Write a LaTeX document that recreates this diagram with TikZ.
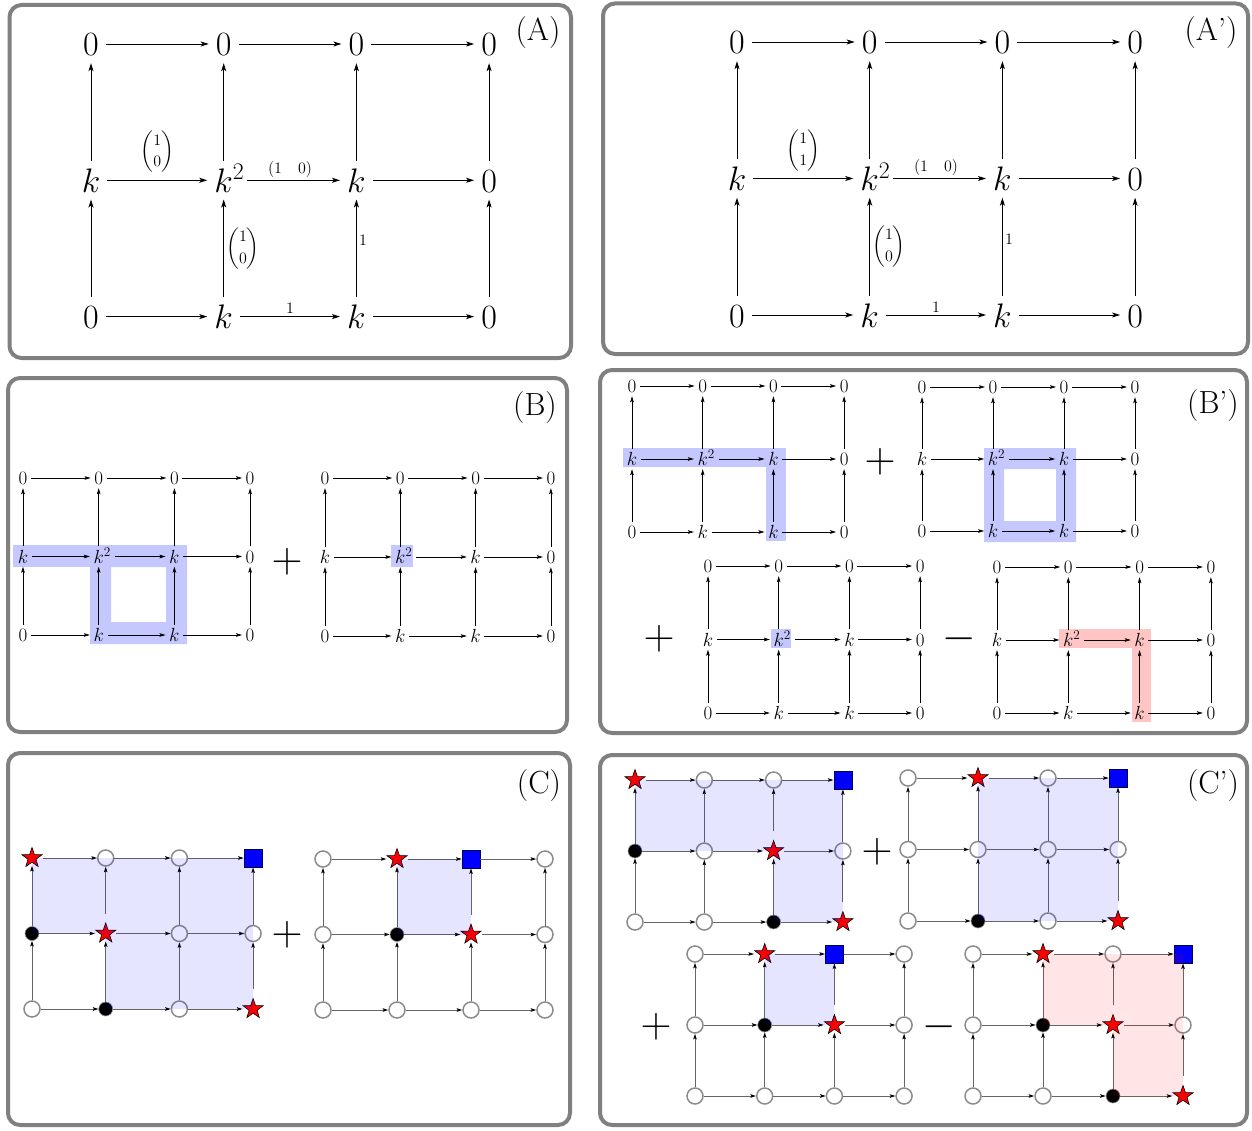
\RequirePackage{fix-cm}
\documentclass[tikz,border=0pt]{standalone}
\usepackage{amsmath}
\usepackage{mathtools}
\usetikzlibrary{arrows.meta,shapes.geometric}
\definecolor{hlb}{RGB}{197,199,255}
\definecolor{hlr}{RGB}{255,197,197}
\tikzset{
 frame/.style={draw=black!50, line width=4pt, rounded corners=12pt},
 plab/.style={font=\fontsize{32}{38}\selectfont, inner sep=0pt},
 Anode/.style={font=\fontsize{34}{40}\selectfont, inner sep=7pt, text height=24pt, text depth=0pt},
 Aarr/.style={-{Stealth[length=8pt,width=5pt,inset=2pt]}, line width=0.9pt},
 Ak2/.style={shorten <=7pt},
 alab/.style={font=\fontsize{16}{19}\selectfont, inner sep=1.5pt},
 bnode/.style={font=\fontsize{19}{22}\selectfont, inner sep=3.5pt, text height=13pt, text depth=0pt},
 barr/.style={-{Stealth[length=6pt,width=3.6pt,inset=1.2pt]}, line width=0.7pt},
 bk2/.style={shorten <=7pt},
 op/.style={font=\fontsize{43}{50}\selectfont, inner sep=0pt},
 cw/.style={circle, draw=black!45, line width=1.5pt, fill=white, minimum size=16pt, inner sep=0pt},
 cb/.style={circle, draw=black!40, line width=0.6pt, fill=black, minimum size=14pt, inner sep=0pt},
 cs/.style={star, star points=5, star point ratio=2.5, draw=black, line width=0.6pt, fill=red, minimum size=21pt, inner sep=0pt, outer sep=3pt},
 cq/.style={rectangle, draw=black!70!blue, line width=0.8pt, fill=blue, minimum size=18pt, inner sep=0pt},
 carr/.style={draw=black!60, line width=0.9pt, -{Stealth[length=5.5pt,width=3.5pt,inset=1pt,color=black]}},
}
\newcommand{\kgrid}[6]{%
  \foreach \ty [count=\i from 0] in {0,0,0,0,k,k\mathrlap{^2},k,0,0,k,k,0}{%
    \pgfmathtruncatemacro\rr{\i/4}%
    \pgfmathtruncatemacro\cc{\i-4*\rr}%
    \node[#6node] (#1-\rr-\cc) at ({#2+\cc*#4},{#3+\rr*#5}) {$\ty$};
  }%
  \foreach \rr in {0,1,2}{\foreach \cc/\dd in {0/1,1/2,2/3}{%
    \ifnum\rr\cc=11 \def\ex{#6k2}\else\def\ex{}\fi
    \draw[#6arr,\ex] (#1-\rr-\cc) -- (#1-\rr-\dd);}}%
  \foreach \rr/\qq in {1/0,2/1}{\foreach \cc in {0,1,2,3}{%
    \draw[#6arr] (#1-\rr-\cc) -- (#1-\qq-\cc);}}%
}
\newcommand{\cgrid}[6]{%
  \foreach \ty [count=\i from 0] in {#6}{%
    \pgfmathtruncatemacro\rr{\i/4}%
    \pgfmathtruncatemacro\cc{\i-4*\rr}%
    \node[\ty] (#1-\rr-\cc) at ({#2+\cc*#4},{#3+\rr*#5}) {};
  }%
  \foreach \rr in {0,1,2}{\foreach \cc/\dd in {0/1,1/2,2/3}{%
    \draw[carr] (#1-\rr-\cc) -- (#1-\rr-\dd);}}%
  \foreach \rr/\qq in {1/0,2/1}{\foreach \cc in {0,1,2,3}{%
    \draw[carr] (#1-\rr-\cc) -- (#1-\qq-\cc);}}%
}
\begin{document}
\begin{tikzpicture}[x=1pt,y=-1pt]
\useasboundingbox (0,0) rectangle (1252,1131);
% frames
\draw[frame] (9.5,5) rectangle (571,358);
\draw[frame] (603,3.5) rectangle (1248,354);
\draw[frame] (8,378) rectangle (567,732);
\draw[frame] (600,370) rectangle (1247,733);
\draw[frame] (8,753) rectangle (570,1125);
\draw[frame] (600,755) rectangle (1247,1125);
% panel labels
\node[plab] (lA) at (538,33) {(A)};
\node[plab] (lAp) at (1211,33) {(A')};
\node[plab] (lB) at (535,408) {(B)};
\node[plab] (lBp) at (1213,406) {(B')};
\node[plab] (lC) at (539,786) {(C)};
\node[plab] (lCp) at (1213,786) {(C')};
% highlights
\fill[hlb] (13,545) rectangle (187,567);
\fill[hlb,even odd rule] (90,545) rectangle (187,644) (111,567) rectangle (166,622);
\fill[hlb] (391,545) rectangle (413,567);
\fill[hlb] (623,448) rectangle (786,467);
\fill[hlb] (766,448) rectangle (786,541);
\fill[hlb,even odd rule] (984,448) rectangle (1076,542) (1004,469) rectangle (1056,521);
\fill[hlb] (771,629) rectangle (791,648);
\fill[hlr] (1059,629) rectangle (1151,648);
\fill[hlr] (1132,629) rectangle (1151,722);
% A grids
\kgrid{A}{91}{44}{132.7}{136.3}{A}
\kgrid{Ap}{737}{42}{132.7}{136.5}{A}
\path (A-1-0) -- node[alab, above=6pt]{$\displaystyle\binom{1}{0}$} (A-1-1);
\path (A-1-1) -- node[alab, above=1pt]{$(1\hspace{1em}0)$} (A-1-2);
\path (A-2-1) -- node[alab, right=1pt]{$\displaystyle\binom{1}{0}$} (A-1-1);
\path (A-2-2) -- node[alab, right=1pt, pos=0.58]{$1$} (A-1-2);
\path (A-2-1) -- node[alab, above=1pt]{$1$} (A-2-2);
\path (Ap-1-0) -- node[alab, above=6pt]{$\displaystyle\binom{1}{1}$} (Ap-1-1);
\path (Ap-1-1) -- node[alab, above=1pt]{$(1\hspace{1em}0)$} (Ap-1-2);
\path (Ap-2-1) -- node[alab, right=1pt]{$\displaystyle\binom{1}{0}$} (Ap-1-1);
\path (Ap-2-2) -- node[alab, right=1pt, pos=0.58]{$1$} (Ap-1-2);
\path (Ap-2-1) -- node[alab, above=1pt]{$1$} (Ap-2-2);
% B grids
\kgrid{B1}{23}{478}{75.7}{78.5}{b}
\kgrid{B2}{325}{478}{75.3}{79}{b}
\kgrid{P1}{632}{386}{70.7}{73}{b}
\kgrid{P2}{922}{387}{71}{72}{b}
\kgrid{P3}{708}{566}{70.7}{73.5}{b}
\kgrid{P4}{997}{567}{71.3}{73}{b}
% C grids
\cgrid{C1}{32}{858}{73.7}{75.5}{cs,cw,cw,cq,cb,cs,cw,cw,cw,cb,cw,cs}
\cgrid{C2}{323}{859}{74}{75.5}{cw,cs,cq,cw,cw,cb,cs,cw,cw,cw,cw,cw}
\cgrid{D1}{635}{780}{69.3}{71}{cs,cw,cw,cq,cb,cw,cs,cw,cw,cw,cb,cs}
\cgrid{D2}{908}{778}{70}{71.5}{cw,cs,cw,cq,cw,cw,cw,cw,cw,cb,cw,cs}
\cgrid{D3}{695}{954}{69.7}{71}{cw,cs,cq,cw,cw,cb,cs,cw,cw,cw,cw,cw}
\cgrid{D4}{973}{954}{70}{71}{cw,cs,cw,cq,cw,cb,cs,cw,cw,cw,cb,cs}
\fill[blue,fill opacity=.1] (C1-0-0.center) -- (C1-0-3.center) -- (C1-2-3.center) -- (C1-2-1.center) -- (C1-1-1.center) -- (C1-1-0.center) -- cycle;
\fill[blue,fill opacity=.1] (C2-0-1.center) rectangle (C2-1-2.center);
\fill[blue,fill opacity=.1] (D1-0-0.center) -- (D1-0-3.center) -- (D1-2-3.center) -- (D1-2-2.center) -- (D1-1-2.center) -- (D1-1-0.center) -- cycle;
\fill[blue,fill opacity=.1] (D2-0-1.center) rectangle (D2-2-3.center);
\fill[blue,fill opacity=.1] (D3-0-1.center) rectangle (D3-1-2.center);
\fill[red,fill opacity=.1] (D4-0-1.center) -- (D4-0-3.center) -- (D4-2-3.center) -- (D4-2-2.center) -- (D4-1-2.center) -- (D4-1-1.center) -- cycle;
% operators
\node[op] (opB) at (287,562) {$+$};
\node[op] (opP1) at (880,462) {$+$};
\node[op] (opP2) at (659,639) {$+$};
\node[op] (opP3) at (959,639) {$-$};
\node[op] (opC) at (287,935) {$+$};
\node[op] (opD1) at (877,852) {$+$};
\node[op] (opD2) at (656,1027) {$+$};
\node[op] (opD3) at (939,1027) {$-$};
\end{tikzpicture}
\end{document}
